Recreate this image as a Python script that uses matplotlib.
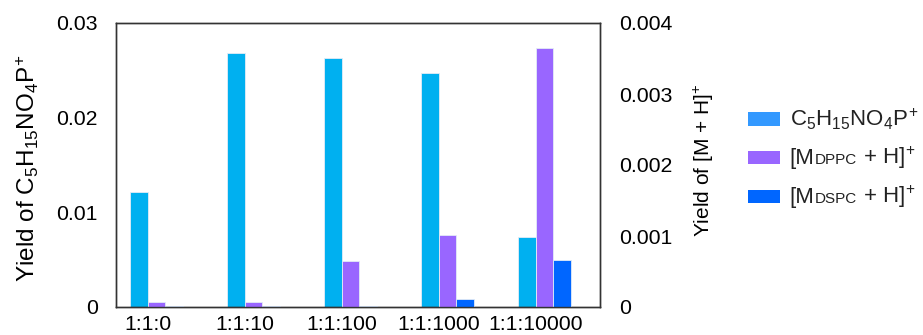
import matplotlib
matplotlib.use("Agg")
import matplotlib.pyplot as plt
import numpy as np
from matplotlib.offsetbox import (DrawingArea, TextArea, HPacker, VPacker,
                                  AnchoredOffsetbox)
from matplotlib.patches import Rectangle

plt.rcParams['font.family'] = ['Liberation Sans', 'DejaVu Sans']
plt.rcParams['mathtext.fontset'] = 'custom'
plt.rcParams['mathtext.rm'] = 'Liberation Sans'
plt.rcParams['mathtext.it'] = 'Liberation Sans'

categories = ["1:1:0", "1:1:10", "1:1:100", "1:1:1000", "1:1:10000"]
choline = [0.0121, 0.0268, 0.0263, 0.0247, 0.00735]       # left axis
dppc = [0.000075, 0.000075, 0.000646, 0.00101, 0.00365]   # right axis
dspc = [0.00001, 0.00001, 0.00001, 0.00011, 0.00066]      # right axis

c_cyan = "#00B0F0"
c_purple = "#9966FF"
c_blue = "#0066FF"
c_leg_cyan = "#3399FF"

fig = plt.figure(figsize=(9.23, 3.35), dpi=100)
ax = fig.add_axes([116/923, 28/335, 484/923, 284/335])
ax2 = ax.twinx()

x = np.arange(len(categories))
w = 0.18
ec = "#e4ecf6"
ax.bar(x - w, choline, w, color=c_cyan, edgecolor=ec, linewidth=0.6, zorder=2)
ax2.bar(x, dppc, w, color=c_purple, edgecolor=ec, linewidth=0.6, zorder=2)
ax2.bar(x + w, dspc, w, color=c_blue, edgecolor=ec, linewidth=0.6, zorder=2)

ax.set_xlim(-0.4175, 4.572)
ax.set_ylim(0, 0.03)
ax2.set_ylim(0, 0.004)
ax.set_yticks([0, 0.01, 0.02, 0.03])
ax.set_yticklabels(["0", "0.01", "0.02", "0.03"])
ax2.set_yticks([0, 0.001, 0.002, 0.003, 0.004])
ax2.set_yticklabels(["0", "0.001", "0.002", "0.003", "0.004"])
ax.set_xticks(x - 0.09)
ax.set_xticklabels(categories)

ax.tick_params(axis='y', length=0, pad=13, labelsize=15.3)
ax2.tick_params(axis='y', length=0, pad=14, labelsize=15.3)
ax.tick_params(axis='x', length=0, pad=6, labelsize=15.3)

for a in (ax, ax2):
    for s in a.spines.values():
        s.set_color("#333333")
        s.set_linewidth(1.0)

sup = r"$\mathregular{^{\!+}}$"
ax.set_ylabel(r"Yield of C$\mathregular{_5}$H$\mathregular{_{15}}$NO$\mathregular{_4}$P" + sup,
              fontsize=17.5)
ax.yaxis.set_label_coords(-0.155, 0.49)
ax2.set_ylabel(r"Yield of [M + H]" + sup, fontsize=15)
ax2.yaxis.set_label_coords(1.19, 0.516)

# custom legend
fs = 16
entries = [
    (c_leg_cyan, [(r"C$\mathregular{_5}$H$\mathregular{_{15}}$NO$\mathregular{_4}$P" + sup, fs)]),
    (c_purple, [("[M", fs), ("DPPC", 11), (r" + H]" + sup, fs)]),
    (c_blue, [("[M", fs), ("DSPC", 11), (r" + H]" + sup, fs)]),
]
rows = []
for col, parts in entries:
    da = DrawingArea(23, 9.4, 0, 0)
    da.add_artist(Rectangle((0, 0), 23, 9.4, facecolor=col, edgecolor='none'))
    texts = [TextArea(s, textprops=dict(size=sz, color="#222222")) for s, sz in parts]
    tp = HPacker(children=texts, align="baseline", pad=0, sep=0)
    rows.append(HPacker(children=[da, tp], align="center", pad=0, sep=7))
vp = VPacker(children=rows, align="left", pad=0, sep=9)
ab = AnchoredOffsetbox(loc="center left", child=vp, pad=0, frameon=False,
                       bbox_to_anchor=(748/923, (335-158)/335),
                       bbox_transform=fig.transFigure, borderpad=0)
fig.add_artist(ab)

fig.savefig("out.png", dpi=100)
